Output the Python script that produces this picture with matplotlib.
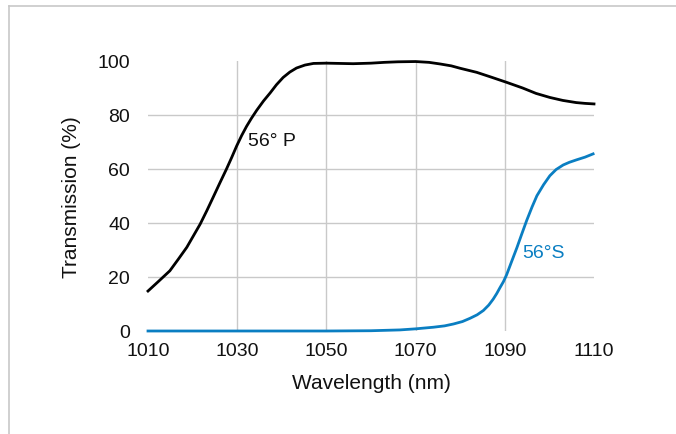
import matplotlib
matplotlib.use("Agg")
import matplotlib.pyplot as plt
from matplotlib.lines import Line2D

plt.rcParams['font.family'] = ['Liberation Sans', 'DejaVu Sans']

# Data
p_wl = [1010, 1012.5, 1014.9, 1016.8, 1018.7, 1020.2, 1021.7, 1023.2, 1024.6, 1026.1,
        1027.6, 1028.8, 1029.9, 1031, 1032.1, 1033.2, 1034.4, 1035.9, 1037.4, 1038.8,
        1040.3, 1041.8, 1043.3, 1045.2, 1047.1, 1050, 1053, 1056, 1060, 1063, 1066,
        1070, 1073, 1075.5, 1078, 1080, 1083.7, 1087, 1090.4, 1094, 1097, 1100.1,
        1103, 1106, 1108, 1110]
p_t = [14.8, 18.6, 22.3, 26.6, 31.0, 35.3, 39.6, 44.6, 49.5, 54.8,
       60.0, 64.4, 68.6, 72.4, 75.8, 78.8, 81.8, 85.2, 88.2, 91.2,
       93.9, 95.9, 97.4, 98.5, 99.1, 99.2, 99.1, 99.0, 99.2, 99.5, 99.7,
       99.8, 99.5, 98.9, 98.2, 97.3, 95.8, 94.0, 92.1, 90.0, 88.0, 86.5,
       85.4, 84.6, 84.3, 84.1]

s_wl = [1010, 1030, 1050, 1060, 1066.5, 1070, 1074, 1076.5, 1078.5, 1080.5, 1082.2,
        1083.8, 1085.2, 1086.4, 1087.4, 1088.2, 1088.9, 1089.7, 1090.4, 1091.5, 1092.7,
        1093.8, 1094.9, 1096.1, 1097.2, 1098.7, 1100.1, 1101.5, 1103.1, 1104.5,
        1106.1, 1108, 1109.8]
s_t = [0, 0, 0, 0.1, 0.4, 0.8, 1.4, 1.9, 2.6, 3.5, 4.7,
       6.0, 7.6, 9.6, 11.8, 13.9, 16.0, 18.3, 20.8, 25.6, 30.8,
       35.9, 40.9, 45.9, 50.1, 54.2, 57.5, 59.8, 61.5, 62.5,
       63.4, 64.4, 65.6]

x_ticks = [1010, 1030, 1050, 1070, 1090, 1110]
y_ticks = [0, 20, 40, 60, 80, 100]
p_label = "56° P"
s_label = "56°S"
x_title = "Wavelength (nm)"
y_title = "Transmission (%)"

FS = 14
FT = 15

fig = plt.figure(figsize=(6.76, 4.35), dpi=100)
ax = fig.add_axes([148/676, 1-332/435, (594-148)/676, (332-62)/435])

ax.set_xlim(1010, 1110)
ax.set_ylim(0, 100)
ax.set_xticks(x_ticks)
ax.set_yticks(y_ticks)

grid_c = '#c9c9c9'
for xv in x_ticks[1:-1]:
    ax.axvline(xv, color=grid_c, lw=1.0, zorder=0)
for yv in y_ticks[1:-1]:
    ax.axhline(yv, color=grid_c, lw=1.0, zorder=0)

for s in ax.spines.values():
    s.set_visible(False)
ax.tick_params(length=0, labelsize=FS, colors='#111111')
ax.tick_params(axis='x', pad=8)
ax.tick_params(axis='y', pad=13)

ax.plot(p_wl, p_t, color='#000000', lw=2.0, clip_on=False, zorder=3,
        solid_joinstyle='round')
ax.plot(s_wl, s_t, color='#0a7ec2', lw=2.0, clip_on=False, zorder=3,
        solid_joinstyle='round')

ax.text(1032.4, 70.5, p_label, fontsize=FS, color='#111111', va='center', ha='left')
ax.text(1094.0, 29, s_label, fontsize=FS, color='#0a7ec2', va='center', ha='left')

ax.set_xlabel(x_title, fontsize=FT, color='#111111', labelpad=10)
ax.set_ylabel(y_title, fontsize=FT, color='#111111', labelpad=12)

# outer chart frame (top and left)
fig.add_artist(Line2D([9/676, 1], [1-7/435, 1-7/435], color='#c8c8c8', lw=1.2, transform=fig.transFigure))
fig.add_artist(Line2D([9/676, 9/676], [0, 1-7/435], color='#c8c8c8', lw=1.2, transform=fig.transFigure))

fig.savefig('out.png', dpi=100)
